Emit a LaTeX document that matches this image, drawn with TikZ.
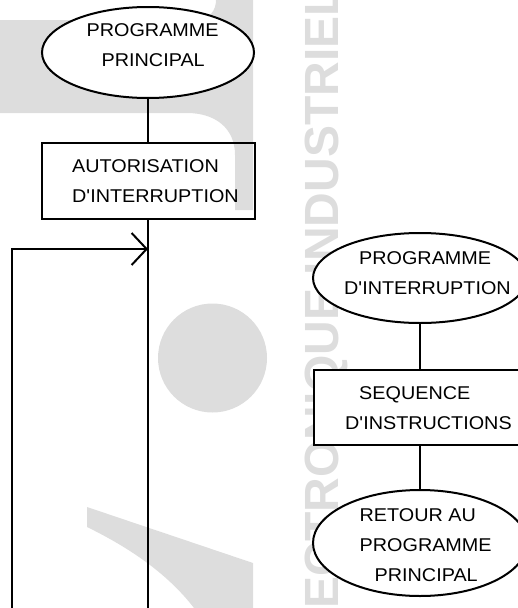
\documentclass[tikz,border=0pt]{standalone}
\usepackage{fontspec}
\setmainfont{Liberation Sans}
\newfontfamily\labelfont[FakeStretch=1.07, Ligatures=TeXOff]{Liberation Sans}
\usetikzlibrary{shapes.geometric, arrows.meta}
\definecolor{wm}{RGB}{221,221,221}

\begin{document}
\begin{tikzpicture}[x=1pt, y=-1pt,
  flow/.style={line width=2pt, black},
  oval/.style={ellipse, draw, line width=2pt, fill=white, inner sep=0pt},
  stepbox/.style={rectangle, draw, line width=2pt, inner sep=0pt},
  caption/.style={anchor=north west, inner sep=0pt, align=left,
    font=\labelfont\fontsize{18.5}{30}\selectfont},
  backdrop/.style={fill=wm, draw=none},
]
\useasboundingbox (0,0) rectangle (517,608);

% light grey logo and lettering behind the chart
\begin{scope}
  \clip (0,0) rectangle (517,608);
  \path[backdrop] (0,20) -- (195,20) .. controls (210,20) and (216,10) .. (216,0)
    -- (253,0) -- (253,210) -- (235,210) -- (235,155)
    .. controls (235,128) and (215,113) .. (187,113) -- (0,113) -- cycle;
  \path[backdrop] (212.5,358) circle[radius=54.5];
  \path[backdrop] (87,507) -- (253,563) -- (253,612) -- (197,612)
    .. controls (170,575) and (130,548) .. (87,527) -- cycle;
  \node[rotate=90, anchor=base west, inner sep=0pt, text=wm,
    font=\bfseries\fontsize{48}{48}\selectfont] (mark) at (338,670)
    {ELECTRONIQUE INDUSTRIELLE};
\end{scope}

% main program
\node[oval, minimum width=212pt, minimum height=91pt] (pp) at (148,52.5) {};
\node[stepbox, minimum width=213pt, minimum height=76pt] (auth) at (148,181) {};
\node[caption] (ppText) at (86.5,23.5) {PROGRAMME\\\hspace*{15pt}PRINCIPAL};
\node[caption] (authText) at (72,159.5) {AUTORISATION\\D'INTERRUPTION};

\coordinate (mainFoot) at (148,612);
\coordinate (loopFoot) at (12,612);
\coordinate (loopCorner) at (12,249);
\coordinate (loopJoin) at (148,249);

\draw[flow] (pp.south) -- (auth.north);
\draw[flow] (auth.south) -- (mainFoot);
\draw[flow, -{Straight Barb[length=15pt, width=32pt, line width=2pt]}]
  (loopFoot) -- (loopCorner) -- (loopJoin);

% interrupt routine
\node[oval, minimum width=214pt, minimum height=90pt] (pi) at (420,278) {};
\node[stepbox, fill=white, minimum width=212pt, minimum height=75pt] (seq) at (420,407.5) {};
\node[oval, minimum width=214pt, minimum height=106pt] (ret) at (420,543) {};
\node[caption] (piText) at (344,251.5) {\hspace*{15pt}PROGRAMME\\D'INTERRUPTION};
\node[caption] (seqText) at (345,386.5) {\hspace*{14pt}SEQUENCE\\D'INSTRUCTIONS};
\node[caption] (retText) at (359.5,508.5) {RETOUR AU\\PROGRAMME\\\hspace*{15pt}PRINCIPAL};

\draw[flow] (pi.south) -- (seq.north);
\draw[flow] (seq.south) -- (ret.north);
\end{tikzpicture}
\end{document}
